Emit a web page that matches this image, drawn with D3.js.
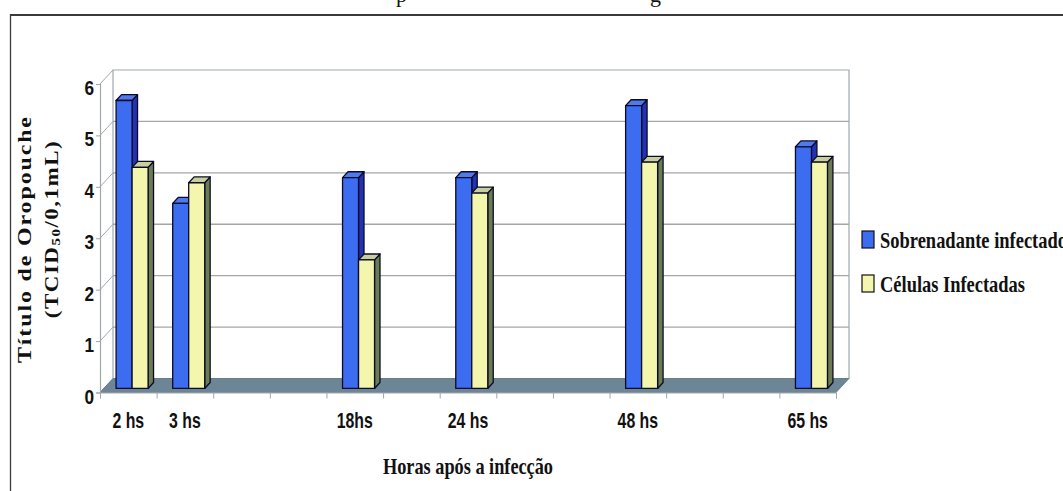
<!DOCTYPE html>
<html>
<head>
<meta charset="utf-8">
<script src="https://cdn.jsdelivr.net/npm/d3@7"></script>
<style>
  html, body { margin: 0; padding: 0; background: #fff; }
  svg { display: block; }
</style>
</head>
<body>
<svg id="chart" width="1063" height="491"></svg>
<script>
// Viral titre over time, two series, drawn as a 3D clustered column chart
const categories = ["2 hs", "3 hs", "", "", "18hs", "", "24 hs", "", "", "48 hs", "", "", "65 hs"];
const sobrenadante = [5.6, 3.6, null, null, 4.1, null, 4.1, null, null, 5.5, null, null, 4.7];
const celulas = [4.3, 4.0, null, null, 2.5, null, 3.8, null, null, 4.4, null, null, 4.4];
const seriesNames = ["Sobrenadante infectado", "Células Infectadas"];
const yTicks = [0, 1, 2, 3, 4, 5, 6];

const svg = d3.select("#chart");

// frame
svg.append("line").attr("x1", 10).attr("x2", 1063).attr("y1", 15).attr("y2", 15)
  .attr("stroke", "#3a3a3a").attr("stroke-width", 2);
svg.append("line").attr("x1", 10.5).attr("x2", 10.5).attr("y1", 14).attr("y2", 491)
  .attr("stroke", "#3a3a3a").attr("stroke-width", 1.3);

// fragments of the line of text above the frame
svg.append("text").attr("x", 396).attr("y", 2).attr("font-family", "Liberation Serif")
  .attr("font-size", 22).attr("fill", "#111").text("p");
svg.append("text").attr("x", 650).attr("y", 2).attr("font-family", "Liberation Serif")
  .attr("font-size", 22).attr("fill", "#111").text("g");

// 3D geometry
const DX = 13, DY = 14;
const FRONT_Y0 = 392.5;
const xBand = d3.scaleBand().domain(d3.range(categories.length)).range([100, 836]);
const yVal = d3.scaleLinear().domain([0, 6]).range([0, 308.5]);
const yFront = d3.scaleLinear().domain([0, 6]).range([FRONT_Y0, FRONT_Y0 - 308.5]);
const proj = (px, v, d) => [px + d * DX, FRONT_Y0 - d * DY - yVal(v)];
const xL = xBand.range()[0], xR = xBand.range()[1];

const wallStroke = "#9ea7ae";
const poly = pts => pts.map(p => p.join(",")).join(" ");

// back wall
svg.append("polygon")
  .attr("points", poly([proj(xL, 0, 1), proj(xR, 0, 1), proj(xR, 6, 1), proj(xL, 6, 1)]))
  .attr("fill", "#fff").attr("stroke", wallStroke).attr("stroke-width", 1.2);

// gridlines on back wall plus diagonals on side
yTicks.forEach(v => {
  if (v > 0 && v < 6) {
    const a = proj(xL, v, 1), b = proj(xR, v, 1);
    svg.append("line").attr("x1", a[0]).attr("y1", a[1]).attr("x2", b[0]).attr("y2", b[1])
      .attr("stroke", "#a6a6a6").attr("stroke-width", 1.3);
  }
  const f = proj(xL, v, 0), bk = proj(xL, v, 1);
  svg.append("line").attr("x1", f[0]).attr("y1", f[1]).attr("x2", bk[0]).attr("y2", bk[1])
    .attr("stroke", wallStroke).attr("stroke-width", 1);
});

// floor
svg.append("polygon")
  .attr("points", poly([proj(xL, 0, 0), proj(xR, 0, 0), proj(xR, 0, 1), proj(xL, 0, 1)]))
  .attr("fill", "#6d8695").attr("stroke", "#5f7684").attr("stroke-width", 0.8);

// y axis
const yAxis = d3.axisLeft(yFront).tickValues(yTicks).tickSize(4).tickPadding(6).tickFormat(d3.format("d"));
const gy = svg.append("g").attr("transform", `translate(${xL},0)`).call(yAxis);
gy.select(".domain").attr("stroke", wallStroke).attr("stroke-width", 1.2);
gy.selectAll(".tick line").attr("stroke", wallStroke);
gy.selectAll(".tick text")
  .attr("font-family", "Liberation Sans, Arial, sans-serif").attr("font-weight", "bold")
  .attr("font-size", 21).attr("fill", "#111").attr("dy", null).attr("y", 0)
  .attr("transform", "translate(-6,10.5) scale(0.82,1)").attr("x", 0)
  .attr("text-anchor", "end");

// x axis: ticks between categories, labels centred
const xEdges = d3.scaleLinear().domain([0, categories.length]).range([xL, xR]);
const gxe = svg.append("g").attr("transform", `translate(0,${FRONT_Y0})`)
  .call(d3.axisBottom(xEdges).tickValues(d3.range(categories.length + 1)).tickSize(6).tickFormat(""));
gxe.select(".domain").attr("stroke", wallStroke).attr("stroke-width", 1);
gxe.selectAll(".tick line").attr("stroke", wallStroke);

const gx = svg.append("g").attr("transform", `translate(0,${FRONT_Y0})`)
  .call(d3.axisBottom(xBand).tickSize(0).tickFormat(i => categories[i]));
gx.select(".domain").remove();
gx.selectAll(".tick text")
  .attr("font-family", "Liberation Sans, Arial, sans-serif").attr("font-weight", "bold")
  .attr("font-size", 22).attr("fill", "#111").attr("dy", null).attr("y", 0)
  .attr("transform", "translate(0,35) scale(0.72,1)");

// bars
const xSeries = d3.scaleBand().domain(seriesNames).range([0, 32]);
const D0 = 0.29, D1 = 0.71;
const palette = {
  "Sobrenadante infectado": { front: "#3c6cf0", top: "#5079ee", side: "#2431b4", key: "#3c6cf0" },
  "Células Infectadas": { front: "#f4f6ae", top: "#c7cf9a", side: "#6c7c52", key: "#f4f6ae" }
};
const seriesData = [
  { name: seriesNames[0], values: sobrenadante },
  { name: seriesNames[1], values: celulas }
];
const barsG = svg.append("g");
categories.forEach((c, i) => {
  seriesData.forEach(s => {
    const v = s.values[i];
    if (v == null) return;
    const x0 = xBand(i) + xBand.bandwidth() / 2 - xSeries.range()[1] / 2 + xSeries(s.name);
    const x1 = x0 + xSeries.bandwidth();
    const col = palette[s.name];
    const g = barsG.append("g").attr("stroke", "#0b0b28").attr("stroke-width", 1.3)
      .attr("stroke-linejoin", "round");
    g.append("polygon").attr("fill", col.side)
      .attr("points", poly([proj(x1, 0, D0), proj(x1, 0, D1), proj(x1, v, D1), proj(x1, v, D0)]));
    g.append("polygon").attr("fill", col.top)
      .attr("points", poly([proj(x0, v, D0), proj(x1, v, D0), proj(x1, v, D1), proj(x0, v, D1)]));
    g.append("polygon").attr("fill", col.front)
      .attr("points", poly([proj(x0, 0, D0), proj(x1, 0, D0), proj(x1, v, D0), proj(x0, v, D0)]));
  });
});

// axis titles
svg.append("text")
  .attr("transform", "translate(31,240) scale(0.8,1) rotate(-90)")
  .attr("text-anchor", "middle").attr("font-family", "Liberation Serif, Times New Roman, serif")
  .attr("font-weight", "bold").attr("font-size", 24).attr("fill", "#111")
  .attr("textLength", 246).attr("lengthAdjust", "spacing")
  .text("Título de Oropouche");

const t2 = svg.append("text")
  .attr("transform", "translate(58,229) scale(0.8,1) rotate(-90)")
  .attr("text-anchor", "middle").attr("font-family", "Liberation Serif, Times New Roman, serif")
  .attr("font-weight", "bold").attr("font-size", 23).attr("fill", "#111")
  .attr("letter-spacing", 1.5);
t2.append("tspan").text("(TCID");
t2.append("tspan").attr("font-size", 15).attr("dy", 3).text("50");
t2.append("tspan").attr("dy", -3).text("/0,1mL)");

svg.append("text")
  .attr("x", 468).attr("y", 474).attr("text-anchor", "middle")
  .attr("font-family", "Liberation Serif, Times New Roman, serif")
  .attr("font-weight", "bold").attr("font-size", 24).attr("fill", "#111")
  .attr("textLength", 170).attr("lengthAdjust", "spacingAndGlyphs")
  .text("Horas após a infecção");

// legend
const legendLen = { "Sobrenadante infectado": 187, "Células Infectadas": 145 };
const leg = svg.append("g");
seriesNames.forEach((n, k) => {
  const cy = 240 + k * 44;
  leg.append("rect").attr("x", 862).attr("y", cy - 9).attr("width", 12).attr("height", 17)
    .attr("fill", palette[n].key).attr("stroke", "#111").attr("stroke-width", 1.2);
  leg.append("text").attr("x", 880).attr("y", cy + 8)
    .attr("font-family", "Liberation Serif, Times New Roman, serif")
    .attr("font-weight", "bold").attr("font-size", 24).attr("fill", "#111")
    .attr("textLength", legendLen[n]).attr("lengthAdjust", "spacingAndGlyphs")
    .text(n);
});
</script>
</body>
</html>
